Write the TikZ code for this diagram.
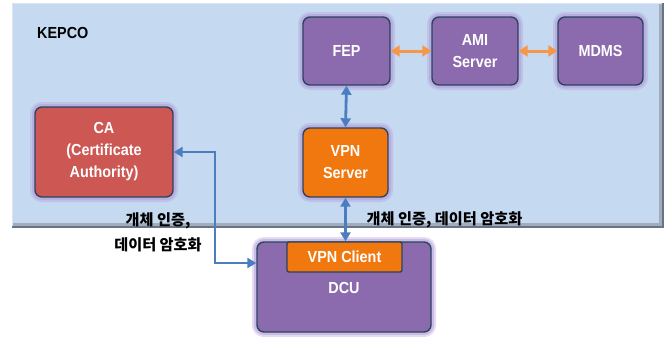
\documentclass[tikz,border=0pt]{standalone}
\usepackage{fontspec}
\setmainfont{Liberation Sans}[FakeStretch=0.9]
\newfontfamily\krfont{Noto Sans CJK KR}
\usetikzlibrary{arrows.meta,calc}

\definecolor{panelfill}{HTML}{C5D9F0}
\definecolor{paneledge}{HTML}{65748A}
\definecolor{panellight}{HTML}{DCE6F2}
\definecolor{boxpurple}{HTML}{8B6BAE}
\definecolor{boxred}{HTML}{CD5753}
\definecolor{boxorange}{HTML}{F0780F}
\definecolor{boxline}{HTML}{2B4460}
\definecolor{glowc}{HTML}{B29CD8}
\definecolor{linkblue}{HTML}{4A7EC0}
\definecolor{linkorange}{HTML}{F79646}

\tikzset{
  boxfont/.style={font=\bfseries\fontsize{16}{22}\selectfont},
  box/.style={draw=boxline, line width=1.4pt, rounded corners=7pt,
    text=white, align=center, inner sep=0pt, boxfont,
    preaction={draw=glowc, line width=10pt, opacity=0.35},
    preaction={draw=glowc, line width=6pt, opacity=0.5}},
  purplebox/.style={box, fill=boxpurple},
  redbox/.style={box, fill=boxred},
  orangebox/.style={box, fill=boxorange},
  bluelink/.style={draw=linkblue, line width=2.8pt,
    {Triangle[length=9pt,width=10pt]}-{Triangle[length=9pt,width=10pt]}},
  orangelink/.style={draw=linkorange, line width=3pt,
    {Triangle[length=9pt,width=11pt]}-{Triangle[length=9pt,width=11pt]}},
  krlabel/.style={font=\krfont\bfseries\fontsize{15.2}{25}\selectfont,
    text=black, align=center, inner sep=0pt}
}

\begin{document}
\begin{tikzpicture}[x=1pt, y=-1pt]
  \useasboundingbox (0,0) rectangle (672,340);

  % KEPCO domain panel with a bevelled right and bottom edge
  \fill[panelfill] (12,3) rectangle (663,227);
  \draw[panellight, line width=1pt] (12,227) -- (12,3) -- (663,3);
  \draw[paneledge!60, line width=3pt] (660.5,4) -- (660.5,224.5) -- (13,224.5);
  \draw[paneledge, line width=1.5pt] (663,3) -- (663,227) -- (12,227);
  \node[anchor=west, boxfont, inner sep=0pt] (kepco) at (37,33) {KEPCO};

  % head-end systems
  \node[purplebox, minimum width=87pt, minimum height=68pt] (fep) at (346.5,51) {FEP};
  \node[purplebox, minimum width=86pt, minimum height=68pt] (ami) at (475,51) {AMI\\Server};
  \node[purplebox, minimum width=85pt, minimum height=68pt] (mdms) at (600.5,51) {MDMS};

  % certificate authority and VPN gateway
  \node[redbox, minimum width=138pt, minimum height=90pt] (ca) at (104,152)
    {CA\\(Certificate\\Authority)};
  \node[orangebox, minimum width=85pt, minimum height=69pt] (vpns) at (345.5,162.5)
    {VPN\\Server};

  % field concentrator with its VPN client
  \node[purplebox, minimum width=174pt, minimum height=90pt] (dcu) at (344,287) {};
  \node[boxfont, text=white] (dculabel) at (344,288) {DCU};
  \node[draw=boxline, line width=1.4pt, fill=boxorange, rounded corners=2pt,
    minimum width=115pt, minimum height=30pt, inner sep=0pt, text=white,
    boxfont] (vpnc) at (344.5,257) {VPN Client};

  % links
  \draw[orangelink] (fep.east) -- (ami.west);
  \draw[orangelink] (ami.east) -- (mdms.west);
  \draw[bluelink] (fep.south) -- (vpns.north);
  \draw[bluelink] (vpns.south) -- (vpns.south |- vpnc.north);
  \coordinate (cabend) at (215,152);
  \draw[bluelink] (ca.east) -- (cabend) |- ([yshift=24pt]dcu.west);

  % link annotations
  \node[krlabel] (authl) at (158,232) {개체 인증,\\데이터 암호화};
  \node[krlabel] (authr) at (444.5,220) {개체 인증, 데이터 암호화};
\end{tikzpicture}
\end{document}
